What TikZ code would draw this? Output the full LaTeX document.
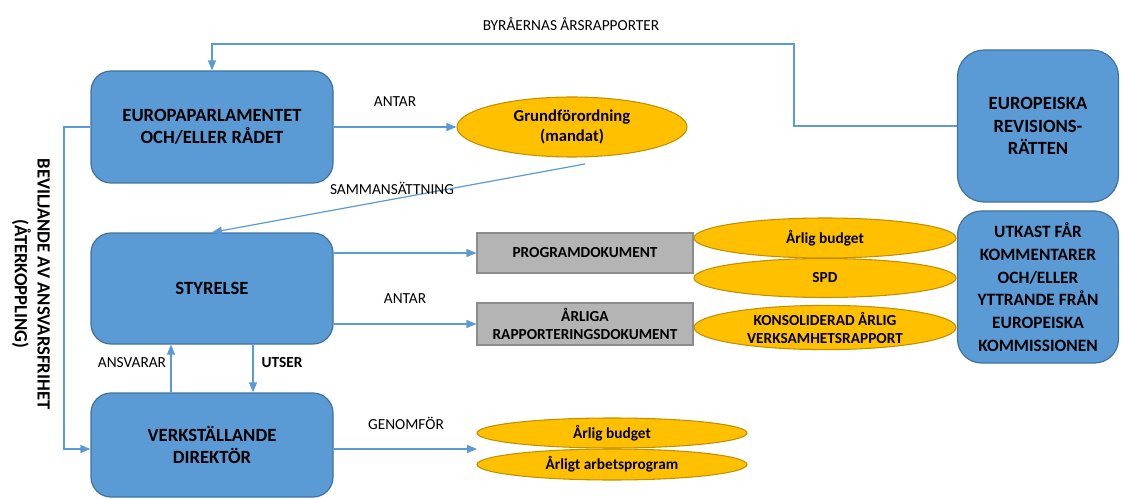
\documentclass[tikz,border=0pt]{standalone}
\usepackage{fontspec}
\setmainfont{Carlito}
\usetikzlibrary{shapes.geometric,arrows.meta}
\definecolor{bfill}{HTML}{5B9BD5}
\definecolor{bdraw}{HTML}{41719C}
\definecolor{ofill}{HTML}{FFC000}
\definecolor{odraw}{HTML}{BF9000}
\definecolor{gfill}{HTML}{B4B4B4}
\definecolor{gdraw}{HTML}{8C8C8C}
\definecolor{arrc}{HTML}{5B9BD5}
\tikzset{
  bluebox/.style={draw=bdraw, fill=bfill, line width=0.9pt, rounded corners=15, align=center,
    font=\fontsize{14}{16.5}\selectfont\bfseries, inner sep=0pt},
  oval/.style={ellipse, draw=odraw, fill=ofill, line width=0.8pt, inner sep=0pt, align=center,
    font=\fontsize{11.5}{13.5}\selectfont\bfseries},
  greybox/.style={rectangle, draw=gdraw, fill=gfill, line width=0.8pt, inner sep=0pt, align=center,
    font=\fontsize{11.5}{14}\selectfont\bfseries},
  lbl/.style={font=\fontsize{11.5}{14}\selectfont, inner sep=0pt},
  arr/.style={draw=arrc, line width=0.9pt, -{Triangle[length=7.5pt,width=6pt]}},
  ln/.style={draw=arrc, line width=0.9pt}
}
\begin{document}
\begin{tikzpicture}[x=0.75pt,y=-0.75pt]
\useasboundingbox (0,0) rectangle (1121,499);
% boxes
\node[bluebox, minimum width=181.5pt, minimum height=84pt] (EP) at (212,127) {EUROPAPARLAMENTET\\OCH/ELLER RÅDET};
\node[bluebox, minimum width=181.5pt, minimum height=83.25pt] (ST) at (212,288.5) {STYRELSE};
\node[bluebox, minimum width=181.5pt, minimum height=78pt] (VD) at (212,445) {VERKSTÄLLANDE\\DIREKTÖR};
\node[bluebox, rounded corners=20, minimum width=120.75pt, minimum height=114pt, font=\fontsize{14}{17}\selectfont\bfseries] (ECA) at (1038,126) {EUROPEISKA\\REVISIONS-\\RÄTTEN};
\node[bluebox, rounded corners=18, minimum width=120.75pt, minimum height=114pt, font=\fontsize{13}{17}\selectfont\bfseries] (UT) at (1038,287) {UTKAST FÅR\\KOMMENTARER\\OCH/ELLER\\YTTRANDE FRÅN\\EUROPEISKA\\KOMMISSIONEN};
% ovals
\node[oval, minimum width=172.5pt, minimum height=45pt, font=\fontsize{12.5}{15}\selectfont\bfseries] (GR) at (572,127) {Grundförordning\\(mandat)};
\node[oval, minimum width=196.5pt, minimum height=30pt] (B1) at (825,238) {Årlig budget};
\node[oval, minimum width=196.5pt, minimum height=29.25pt] (SPD) at (825,278) {SPD};
\node[oval, minimum width=196.5pt, minimum height=29.25pt] (KO) at (825,327.5) {KONSOLIDERAD ÅRLIG\\VERKSAMHETSRAPPORT};
\node[oval, minimum width=202.5pt, minimum height=22.5pt] (B2) at (612,433) {Årlig budget};
\node[oval, minimum width=202.5pt, minimum height=23.25pt] (AP) at (612,464.5) {Årligt arbetsprogram};
% grey boxes
\node[greybox, minimum width=162pt, minimum height=30pt] (PD) at (585,253) {PROGRAMDOKUMENT};
\node[greybox, minimum width=162pt, minimum height=31.5pt] (AR) at (585,324) {ÅRLIGA\\RAPPORTERINGSDOKUMENT};
% coordinates
\coordinate (t1) at (794,44);
\coordinate (g1) at (585,164);
\coordinate (L) at (64,449);
\coordinate (vdt) at (477,449);
\coordinate (ax) at (171,0);
\coordinate (ux) at (253,0);
% connectors
\draw[arr] (ECA.west) -| (t1) -| (EP.north);
\draw[arr] (EP.east) -- (GR.west);
\draw[arr] (g1) -- (ST.north);
\draw[arr] (EP.west) -| (L) -- (VD.west |- L);
\draw[arr] (ST.east |- PD) -- (PD.west);
\draw[arr] (ST.east |- AR) -- (AR.west);
\draw[arr] (VD.east |- vdt) -- (vdt);
\draw[arr] (VD.north -| ax) -- (ST.south -| ax);
\draw[arr] (ST.south -| ux) -- (VD.north -| ux);
% labels
\node[lbl] (l1) at (571,24) {BYRÅERNAS ÅRSRAPPORTER};
\node[lbl] (l2) at (395,102) {ANTAR};
\node[lbl] (l3) at (392,188) {SAMMANSÄTTNING};
\node[lbl] (l4) at (405,299) {ANTAR};
\node[lbl] (l5) at (132,363) {ANSVARAR};
\node[lbl, font=\fontsize{11.5}{14}\selectfont\bfseries] (l6) at (282,363) {UTSER};
\node[lbl] (l7) at (406,423) {GENOMFÖR};
\node[rotate=-90, align=center, inner sep=0pt, font=\fontsize{14}{17}\selectfont\bfseries] (side) at (31,284) {BEVILJANDE AV ANSVARSFRIHET\\(ÅTERKOPPLING)};
\end{tikzpicture}
\end{document}
